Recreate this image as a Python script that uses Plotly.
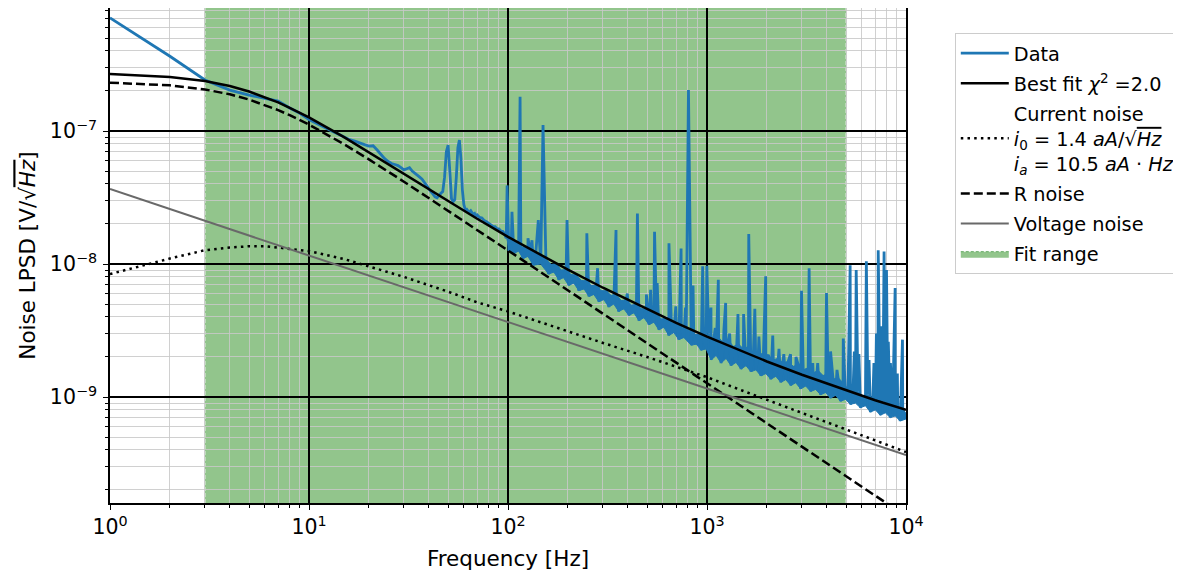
import numpy as np
import plotly.graph_objects as go

# ---------------- data (values in nV/sqrt(Hz)) ----------------
data_freq = [1, 2, 3, 4, 5, 6, 7, 8, 9, 10, 11, 12, 13, 14, 15, 16, 17, 18, 19, 20,
             21, 22, 23, 24, 25, 26, 27, 28, 29, 30, 31, 32, 33, 34, 35, 36, 37, 38, 39, 40,
             41, 42, 43, 44, 45, 46, 47, 48, 49, 50, 51, 52, 53, 54, 55, 56, 57, 58, 59, 60,
             61, 62, 63, 64, 65, 66, 67, 68, 69, 70, 72, 74, 76, 78, 80, 82, 84, 86, 88, 90,
             92, 94, 96, 98, 101, 104, 107, 110, 113, 116, 119, 122, 126, 130, 134, 138, 146,
             155, 160, 165, 170, 175, 180, 185, 190, 196, 202, 208, 214, 220, 227, 234, 241,
             248, 255, 262, 270, 278, 286, 294, 303, 312, 321, 330, 340, 350, 360, 371, 382,
             393, 405, 417, 429, 442, 455, 468, 482, 496, 511, 526, 541, 557, 573, 590, 607,
             625, 643, 662, 681, 701, 722, 743, 765, 787, 834, 858, 883, 909, 935, 962, 990,
             1019, 1049, 1080, 1111, 1144, 1177, 1211, 1247, 1283, 1321, 1359, 1399, 1440,
             1482, 1525, 1570, 1616, 1663, 1711, 1761, 1813, 1866, 1920, 1976, 2034, 2093,
             2154, 2217, 2282, 2349, 2417, 2488, 2561, 2635, 2712, 2792, 2873, 2957, 3044,
             3133, 3224, 3318, 3415, 3515, 3618, 3724, 3832, 3944, 4060, 4178, 4300, 4426,
             4555, 4688, 4825, 4966, 5111, 5260, 5414, 5572, 5735, 5902, 6075, 6252, 6435,
             6623, 6816, 7015, 7220, 7431, 7648, 7871, 8101, 8338, 8581, 8832, 9090, 9355,
             9628, 9910, 10000]
data_nV = [710, 365, 242, 203, 186, 176, 168, 149, 136, 122, 113, 106, 100, 95, 90, 86, 84, 81, 79, 77,
           77.5, 72, 66, 62, 59, 57, 56, 55, 53, 51, 52, 53, 50, 48, 46, 45, 43.5, 41, 38.5, 36.5,
           35, 33.5, 32, 31.5, 33, 34, 35, 45, 70, 78.5, 50, 31, 29.5, 30.5, 45, 75, 85.6, 62, 36, 28,
           25.5, 25.8, 25, 24.6, 25.2, 24.2, 23.5, 24, 23, 23.4, 22.4, 22.2, 21.2, 20.8, 20.2, 19.9, 19.2, 19.1, 18.4, 18.4,
           17.7, 17.6, 16.9, 15.6, 12.6, 15.4, 12.0, 14.6, 12.5, 13.3, 11.0, 13.6, 11.4, 12.1, 9.8, 12.2, 10.0,
           10.9, 8.4, 9.9, 8.7, 10.1, 7.6, 9.0, 7.9, 9.1, 6.9, 8.3, 7.2, 8.3, 6.3, 7.5, 6.5,
           7.5, 5.7, 6.9, 5.9, 6.9, 5.2, 6.3, 5.4, 6.3, 4.75, 5.8, 5.0, 5.9, 4.4, 5.3, 4.6,
           5.4, 4.1, 4.9, 4.3, 5.0, 3.75, 4.6, 3.95, 4.6, 3.5, 4.2, 3.65, 4.25, 3.2, 3.85, 3.35,
           3.95, 2.9, 3.6, 3.05, 3.6, 2.7, 3.3, 2.8, 3.3, 2.45, 2.95, 2.5, 2.95, 2.25, 2.75, 2.3,
           3.0, 1.9, 2.7, 2.05, 2.8, 1.8, 2.55, 1.95, 2.65, 1.72, 2.4, 1.82, 2.5,
           1.62, 2.3, 1.72, 2.4, 1.55, 2.15, 1.6, 2.22, 1.44, 2.05, 1.5, 2.08, 1.36,
           1.9, 1.43, 1.96, 1.29, 1.8, 1.35, 1.86, 1.22, 1.7, 1.28, 1.75, 1.15, 1.6,
           1.21, 1.66, 1.1, 1.52, 1.14, 1.58, 1.04, 1.45, 1.08, 1.5, 0.98, 1.36, 1.03,
           1.4, 0.93, 1.28, 0.96, 1.15, 0.88, 1.08, 0.9, 1.1, 0.83, 1.02, 0.86, 1.04,
           0.77, 0.97, 0.8, 0.96, 0.73, 0.92, 0.76, 0.9, 0.7, 0.87, 0.72, 0.84, 0.66,
           0.82, 0.68, 0.75]
# first frequency of the noisy broadband region (alternating upper/lower excursions)
band_start_hz = 98

# narrow spectral lines (frequency in Hz, amplitude in nV/sqrt(Hz))
peak_freq = [99, 104.7, 115, 126, 132, 142, 150, 198, 249, 282, 349, 398, 447, 496, 521, 545,
             562, 644, 697, 741, 780, 807, 851, 951, 998, 1047, 1100, 1140, 1216, 1241, 1300,
             1431, 1527, 1621, 1739, 1823, 1972, 2140, 2300, 2432, 2630, 2800, 2985, 3260,
             3400, 3600, 3985, 4178, 4500, 4840,
             5240, 5500, 5620, 5800, 6320, 6520, 6900, 7100, 7250, 7350, 7500, 7760, 7850,
             7980, 8150, 8350, 8820, 9050, 9600]
peak_nV = [39, 24.7, 181, 15.6, 15.1, 21.4, 111, 21.4, 17.0, 9.3, 18.0, 6.0, 24.0, 5.9, 6.4, 17.5,
           7.2, 14.3, 4.8, 13.1, 4.7, 203, 6.9, 9.6, 9.7, 4.7, 3.3, 7.6, 3.2, 5.1, 3.0,
           4.2, 4.2, 16.8, 4.6, 2.85, 8.1, 2.9, 2.3, 2.1, 2.1, 2.0, 6.3, 9.3,
           1.8, 1.8, 6.05, 2.2, 1.6, 2.75,
           9.8, 2.2, 9.0, 2.1, 10.5, 1.9, 1.8, 3.0, 12.7, 2.6, 3.4, 12.4, 3.0,
           9.0, 2.6, 1.8, 6.6, 1.5, 2.7]

# model curves
model_freq = [1, 2, 3, 4, 5, 6, 7, 8, 10, 15, 20, 30, 50, 70, 100, 150, 200, 300, 500, 700,
              1000, 1500, 2000, 3000, 5000, 7000, 10000]
fit_nV = [268, 255, 238, 218, 198, 180, 164, 149.5, 126.5, 90, 69, 48, 29.7, 21.9, 16.0, 11.4,
          9.06, 6.63, 4.56, 3.61, 2.84, 2.20, 1.85, 1.47, 1.12, 0.946, 0.80]
current_nV = [8.4, 11.0, 12.7, 13.3, 13.6, 13.6, 13.3, 13.0, 12.5, 10.9, 9.6, 8.0, 6.2, 5.15, 4.4,
              3.6, 3.1, 2.55, 2.0, 1.68, 1.41, 1.12, 0.955, 0.76, 0.57, 0.472, 0.386]
rnoise_nV = [231.1, 220.4, 205.4, 188.8, 172.4, 157.2, 143.6, 131.5, 111.7, 79.6, 61.2, 41.6,
             25.23, 18.08, 12.65, 8.46, 6.345, 4.23, 2.538, 1.813, 1.269, 0.846, 0.6345, 0.423,
             0.2538, 0.1813, 0.1269]
voltage_nV = [36.6, 25.88, 21.13, 18.3, 16.37, 14.94, 13.83, 12.94, 11.57, 9.45, 8.18, 6.68,
              5.18, 4.37, 3.66, 2.99, 2.588, 2.113, 1.637, 1.383, 1.157, 0.945, 0.818, 0.668,
              0.518, 0.437, 0.366]

fit_range = [3, 5000]

x_tickvals = [1, 10, 100, 1000, 10000]
x_ticktext = ["10<sup>0</sup>", "10<sup>1</sup>", "10<sup>2</sup>", "10<sup>3</sup>", "10<sup>4</sup>"]
y_tickvals = [1e-9, 1e-8, 1e-7]
y_ticktext = ["10<sup>\u22129</sup>", "10<sup>\u22128</sup>", "10<sup>\u22127</sup>"]

NV = 1e-9

# merge line spectrum into the measured floor
pairs = sorted(list(zip(data_freq, data_nV)) + list(zip(peak_freq, peak_nV)))
df = np.array([p[0] for p in pairs], dtype=float)
dv = np.array([p[1] for p in pairs], dtype=float) * NV
mf = np.array(model_freq, dtype=float)

# envelope of the broadband noise (upper / lower excursions of the floor)
i0 = data_freq.index(band_start_hz)
bf = data_freq[i0:]
bv = data_nV[i0:]
env_x = bf[0::2] + bf[1::2][::-1]
env_y = (np.array(bv[0::2] + bv[1::2][::-1]) * NV)

FONT = "DejaVu Sans"
GREEN = "rgb(146,197,140)"
BLUE = "#1f77b4"

fig = go.Figure()
fig.add_trace(go.Scatter(x=env_x, y=env_y, mode="lines", fill="toself", fillcolor=BLUE,
                         line=dict(color=BLUE, width=1), showlegend=False, hoverinfo="skip"))
fig.add_trace(go.Scatter(x=df, y=dv, mode="lines", name="Data", legendgroup="a",
                         line=dict(color=BLUE, width=2.8)))
fig.add_trace(go.Scatter(x=mf, y=np.array(fit_nV) * NV, mode="lines", legendgroup="b",
                         name="Best fit <i>\u03c7</i><sup>2</sup> =2.0",
                         line=dict(color="black", width=2.5)))
fig.add_trace(go.Scatter(x=mf, y=np.array(current_nV) * NV, mode="lines", legendgroup="c",
                         name=("Current noise<br><i>i</i><sub>0</sub> = 1.4 <i>aA</i>/\u221a"
                               "<span style='text-decoration:overline'><i>Hz</i></span><br>"
                               "<i>i<sub>a</sub></i> = 10.5 <i>aA</i> \u00b7 <i>Hz</i>"),
                         line=dict(color="black", width=2.5, dash="2.5px,4.2px")))
fig.add_trace(go.Scatter(x=mf, y=np.array(rnoise_nV) * NV, mode="lines", name="R noise",
                         legendgroup="d",
                         line=dict(color="black", width=2.5, dash="9px,4px")))
fig.add_trace(go.Scatter(x=mf, y=np.array(voltage_nV) * NV, mode="lines", name="Voltage noise",
                         legendgroup="e",
                         line=dict(color="dimgray", width=2)))
fig.add_trace(go.Scatter(x=[None], y=[None], mode="lines", fill="toself", fillcolor=GREEN,
                         name="Fit range", legendgroup="f",
                         line=dict(color="rgb(100,170,100)", width=1, dash="3px,2px")))

# fit range span (below the grid)
fig.add_shape(type="rect", xref="x", yref="paper", x0=fit_range[0], x1=fit_range[1],
              y0=0, y1=1, fillcolor=GREEN, line=dict(width=0), layer="below")
for xv in fit_range:
    fig.add_shape(type="line", xref="x", yref="paper", x0=xv, x1=xv, y0=0, y1=1,
                  line=dict(color="rgb(225,235,225)", width=1.2, dash="4px,2px"), layer="below")

axis_common = dict(
    type="log", showline=True, linecolor="black", linewidth=1.6, mirror=True,
    ticks="outside", ticklen=5, tickwidth=1.2, tickcolor="black",
    showgrid=True, gridcolor="black", gridwidth=1.6,
    tickfont=dict(family=FONT, size=20.5, color="black"),
    minor=dict(ticks="outside", ticklen=3, tickwidth=1, tickcolor="black",
               showgrid=True, gridcolor="rgba(200,200,200,0.85)", gridwidth=1.2, dtick="D1"),
    zeroline=False, automargin=False,
)

fig.update_xaxes(range=[0, 4], tickvals=x_tickvals, ticktext=x_ticktext,
                 title=dict(text="Frequency [Hz]", font=dict(family=FONT, size=21.5, color="black"),
                            standoff=13),
                 **axis_common)
fig.update_yaxes(range=[-9.797, -6.075], tickvals=y_tickvals, ticktext=y_ticktext,
                 title=dict(text=("Noise LPSD [V/\u221a<span style='text-decoration:overline'>"
                                  "<i>Hz</i></span>]"),
                            font=dict(family=FONT, size=21.5, color="black"), standoff=8),
                 ticklabelstandoff=2,
                 **axis_common)

# page body adds an 8 px offset: size/margins compensate so the plot lands where it should
fig.update_layout(
    width=1173, height=567,
    margin=dict(l=102, r=272, t=0, b=72),
    plot_bgcolor="white", paper_bgcolor="white",
    font=dict(family=FONT, size=19, color="black"),
    legend=dict(x=1.0613, y=0.9495, xanchor="left", yanchor="top", bgcolor="white",
                bordercolor="#cccccc", borderwidth=1, tracegroupgap=2, itemwidth=48,
                font=dict(family=FONT, size=19.3, color="black"), traceorder="grouped"),
    showlegend=True,
)

fig.write_html("out.html")
